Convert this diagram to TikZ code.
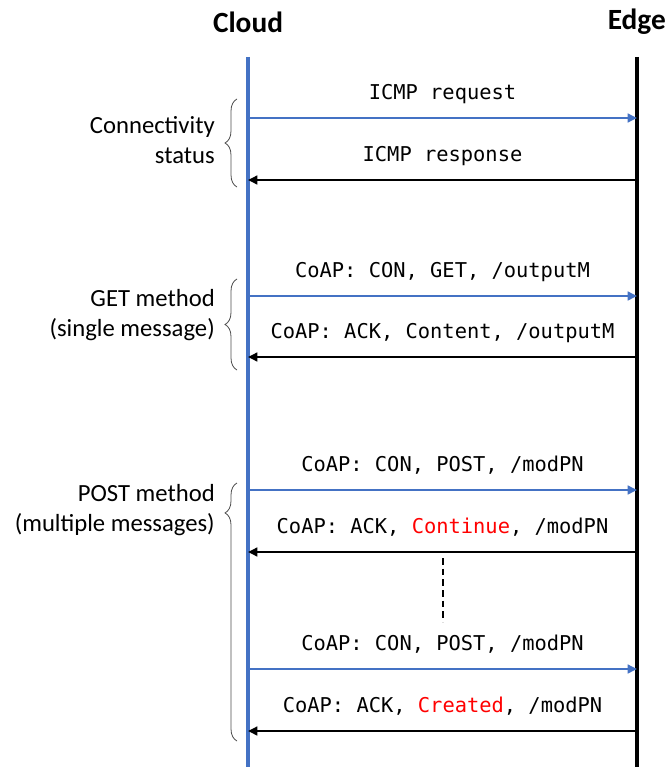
\documentclass[tikz,border=0pt]{standalone}
\usepackage{fontspec}
\setmainfont{Carlito}
\newfontfamily\msgfont{DejaVu Sans Mono}
\usetikzlibrary{arrows.meta,decorations.pathreplacing}
\definecolor{lineblue}{HTML}{4472C4}
\definecolor{msgred}{HTML}{FF0000}
\tikzset{
  lifeline/.style={line width=2.5pt},
  head/.style={font=\bfseries\fontsize{22}{26}\selectfont, inner sep=0pt},
  req/.style={lineblue, line width=1.9pt, -{Triangle[length=7pt,width=6.5pt]}},
  resp/.style={black, line width=1.9pt, -{Triangle[length=7pt,width=6.5pt]}},
  msg/.style={font=\msgfont\fontsize{15.3}{18}\selectfont, text=black, anchor=base, yshift=14pt, inner sep=0pt},
  grp/.style={decorate, decoration={brace, amplitude=9pt}, line width=0.6pt, black!70},
  grplabel/.style={align=right, anchor=east, inner sep=0pt, font=\fontsize{18.5}{23}\selectfont}
}
\begin{document}
\begin{tikzpicture}[x=0.75pt, y=0.75pt]
\useasboundingbox (0,0) rectangle (667,-767);
% lifelines
\node[head] (cloud) at (248,-22) {Cloud};
\node[head, anchor=east] (edge) at (666,-22) {Edge};
\coordinate (ctop) at (248,-57);
\coordinate (cbot) at (248,-767);
\coordinate (etop) at (637,-57);
\coordinate (ebot) at (637,-767);
\draw[lifeline, lineblue] (ctop) -- (cbot);
\draw[lifeline] (etop) -- (ebot);
% message levels
\foreach \y/\n in {118/1, 180/2, 296/3, 357/4, 490/5, 552/6, 669/7, 731/8}{
  \coordinate (c\n) at (248,-\y);
  \coordinate (e\n) at (637,-\y);
}
% connectivity
\draw[req] (c1) -- node[msg] {ICMP request} (e1);
\draw[resp] (e2) -- node[msg] {ICMP response} (c2);
% GET
\draw[req] (c3) -- node[msg] {CoAP: CON, GET, /outputM} (e3);
\draw[resp] (e4) -- node[msg] {CoAP: ACK, Content, /outputM} (c4);
% POST
\draw[req] (c5) -- node[msg] {CoAP: CON, POST, /modPN} (e5);
\draw[resp] (e6) -- node[msg] {CoAP: ACK, {\color{msgred}Continue}, /modPN} (c6);
\coordinate (d1) at (443,-558);
\coordinate (d2) at (443,-622);
\draw[dash pattern=on 5pt off 3pt, line width=0.9pt] (d1) -- (d2);
\draw[req] (c7) -- node[msg] {CoAP: CON, POST, /modPN} (e7);
\draw[resp] (e8) -- node[msg] {CoAP: ACK, {\color{msgred}Created}, /modPN} (c8);
% groups
\draw[grp] (237,-187) -- (237,-99);
\node[grplabel] (conn) at (215,-140) {Connectivity\\status};
\draw[grp] (237,-370) -- (237,-279);
\node[grplabel] (get) at (215,-315) {GET method\\(single message)};
\draw[grp, decoration={aspect=0.884}] (237,-741) -- (237,-483);
\node[grplabel] (post) at (215,-510) {POST method\\(multiple messages)};
\end{tikzpicture}
\end{document}
